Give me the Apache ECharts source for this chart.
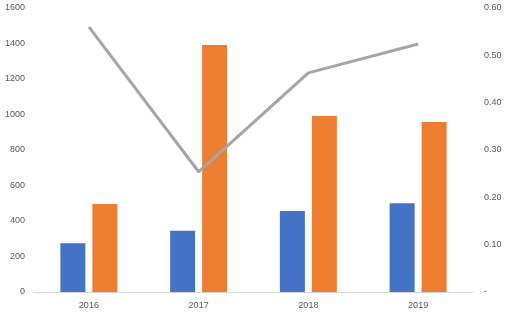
<!DOCTYPE html>
<html><head><meta charset="utf-8">
<script src="https://cdn.jsdelivr.net/npm/echarts@6/dist/echarts.min.js"></script>
<style>html,body{margin:0;padding:0;background:#fff}#c{width:514px;height:317px}</style>
</head><body><div id="c"></div>
<script>
const categories = ['2016', '2017', '2018', '2019'];
const blueValues = [274, 345, 456, 500];
const orangeValues = [496, 1391, 991, 958];
const lineValues = [0.56, 0.254, 0.463, 0.524];
const leftTicks = [0, 200, 400, 600, 800, 1000, 1200, 1400, 1600];
const rightTicks = [0, 0.1, 0.2, 0.3, 0.4, 0.5, 0.6];

const chart = echarts.init(document.getElementById('c'));
const lbl = {color: '#595959', fontSize: 9, fontFamily: 'Liberation Sans, Arial, sans-serif'};
chart.setOption({
  animation: false,
  grid: {left: 34, right: 41, top: 8, bottom: 25},
  xAxis: {
    type: 'category', data: categories,
    axisLine: {lineStyle: {color: '#d9d9d9', width: 1}},
    axisTick: {show: false},
    axisLabel: Object.assign({margin: 9}, lbl)
  },
  yAxis: [{
    type: 'value', min: leftTicks[0], max: leftTicks[leftTicks.length - 1], interval: 200,
    splitLine: {show: false}, axisLine: {show: false}, axisTick: {show: false},
    axisLabel: Object.assign({margin: 9, formatter: v => String(Math.round(v))}, lbl)
  }, {
    type: 'value', min: rightTicks[0], max: rightTicks[rightTicks.length - 1], interval: 0.1,
    splitLine: {show: false}, axisLine: {show: false}, axisTick: {show: false},
    axisLabel: Object.assign({margin: 11, formatter: v => Math.abs(v) < 1e-9 ? '-' : v.toFixed(2)}, lbl)
  }],
  series: [{
    type: 'bar', data: blueValues, barWidth: 25, barGap: '28%',
    itemStyle: {color: '#4472c4'}
  }, {
    type: 'bar', data: orangeValues, barWidth: 25,
    itemStyle: {color: '#ed7d31'}
  }, {
    type: 'line', yAxisIndex: 1, data: lineValues, symbol: 'none',
    lineStyle: {color: '#a5a5a5', width: 3}
  }]
});
</script></body></html>
